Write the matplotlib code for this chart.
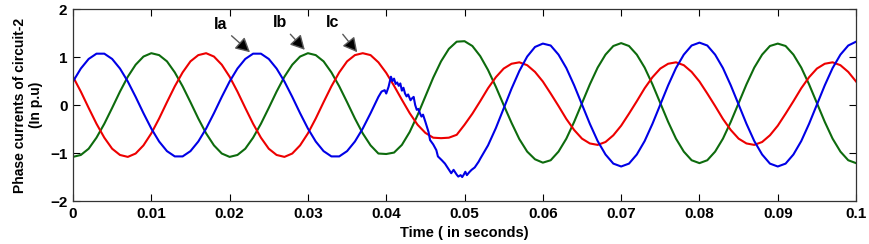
import numpy as np
import matplotlib
matplotlib.use('Agg')
import matplotlib.pyplot as plt

# time grid, 1 ms samples (s)
time = np.arange(101) * 0.001

# Ib (green), one value per ms
ib = [-1.08, -1.04, -0.91, -0.68, -0.39, -0.06, 0.28, 0.59, 0.84, 1.01,
      1.08, 1.04, 0.91, 0.68, 0.39, 0.06, -0.28, -0.59, -0.84, -1.01,
      -1.08, -1.04, -0.91, -0.68, -0.39, -0.06, 0.28, 0.59, 0.84, 1.01,
      1.08, 1.04, 0.91, 0.68, 0.39, 0.06, -0.28, -0.59, -0.84, -1.01,
      -1.02, -0.99, -0.83, -0.56, -0.21, 0.18, 0.57, 0.91, 1.17, 1.32,
      1.33, 1.23, 1.02, 0.73, 0.38, 0.00, -0.37, -0.71, -0.97, -1.13,
      -1.20, -1.15, -0.97, -0.70, -0.35, 0.04, 0.43, 0.78, 1.05, 1.23,
      1.29, 1.23, 1.05, 0.78, 0.43, 0.04, -0.35, -0.70, -0.97, -1.15,
      -1.21, -1.15, -0.97, -0.70, -0.35, 0.04, 0.43, 0.78, 1.05, 1.23,
      1.28, 1.23, 1.05, 0.78, 0.43, 0.04, -0.35, -0.70, -0.97, -1.15,
      -1.21]

# Ic (red), one value per ms
ic = [0.59, 0.28, -0.06, -0.39, -0.68, -0.91, -1.04, -1.08, -1.01, -0.84,
      -0.59, -0.28, 0.06, 0.39, 0.68, 0.91, 1.04, 1.08, 1.01, 0.84,
      0.59, 0.28, -0.06, -0.39, -0.68, -0.91, -1.04, -1.08, -1.01, -0.84,
      -0.59, -0.28, 0.06, 0.39, 0.68, 0.91, 1.04, 1.08, 1.04, 0.89,
      0.67, 0.40, 0.11, -0.17, -0.41, -0.58, -0.68, -0.69, -0.68, -0.62,
      -0.41, -0.18, 0.08, 0.35, 0.58, 0.76, 0.86, 0.89, 0.83, 0.69,
      0.49, 0.24, -0.02, -0.29, -0.52, -0.70, -0.80, -0.83, -0.77, -0.63,
      -0.43, -0.18, 0.08, 0.35, 0.58, 0.76, 0.86, 0.89, 0.83, 0.69,
      0.49, 0.24, -0.02, -0.29, -0.52, -0.70, -0.80, -0.83, -0.77, -0.63,
      -0.43, -0.18, 0.08, 0.35, 0.58, 0.76, 0.86, 0.89, 0.83, 0.69,
      0.49]

# Ia (blue): pre-fault 0..38 ms, fault region (irregular samples), post-fault 52..100 ms
ia_pre = [0.49, 0.76, 0.96, 1.07, 1.07, 0.96, 0.76, 0.49, 0.17, -0.17,
          -0.49, -0.76, -0.96, -1.07, -1.07, -0.96, -0.76, -0.49, -0.17, 0.17,
          0.49, 0.76, 0.96, 1.07, 1.07, 0.96, 0.76, 0.49, 0.17, -0.17,
          -0.49, -0.76, -0.96, -1.07, -1.07, -0.96, -0.76, -0.49, -0.17]
fault_t = [0.0390, 0.0394, 0.0398, 0.0400, 0.0403, 0.0406, 0.0408, 0.0410,
           0.0412, 0.0414, 0.0416, 0.0418, 0.0420, 0.0422, 0.0424, 0.0426,
           0.0428, 0.0431, 0.0433, 0.0435, 0.0437, 0.0439, 0.0441, 0.0443,
           0.0445, 0.0447, 0.0450, 0.0454, 0.0456, 0.0460, 0.0464, 0.0466,
           0.0471, 0.0475, 0.0479, 0.0483, 0.0486, 0.0490, 0.0492, 0.0495,
           0.0497, 0.0499, 0.0501, 0.0503, 0.0506, 0.0509, 0.0513, 0.0518]
fault_ia = [0.17, 0.28, 0.31, 0.24, 0.38, 0.59, 0.50, 0.55,
            0.44, 0.47, 0.40, 0.45, 0.30, 0.36, 0.24, 0.18,
            0.22, 0.10, 0.14, 0.17, 0.00, -0.10, -0.08, -0.17,
            -0.24, -0.20, -0.35, -0.56, -0.73, -0.82, -0.94, -1.07,
            -1.15, -1.22, -1.32, -1.42, -1.35, -1.45, -1.49, -1.46,
            -1.50, -1.45, -1.39, -1.46, -1.40, -1.35, -1.30, -1.18]
ia_post = [-1.12, -0.84, -0.48, -0.07, 0.34, 0.71, 1.01, 1.21, 1.28,
           1.24, 1.05, 0.77, 0.41, 0.01, -0.39, -0.75, -1.03, -1.22, -1.28,
           -1.22, -1.03, -0.75, -0.39, 0.01, 0.41, 0.77, 1.05, 1.24, 1.30,
           1.24, 1.05, 0.77, 0.41, 0.01, -0.39, -0.75, -1.03, -1.22, -1.28,
           -1.22, -1.03, -0.75, -0.39, 0.01, 0.41, 0.77, 1.05, 1.24, 1.32]

ia_t = np.concatenate([time[:39], fault_t, time[52:]])
ia = np.concatenate([ia_pre, fault_ia, ia_post])

x_ticks = [0, 0.01, 0.02, 0.03, 0.04, 0.05, 0.06, 0.07, 0.08, 0.09, 0.1]
x_labels = ['0', '0.01', '0.02', '0.03', '0.04', '0.05', '0.06', '0.07', '0.08', '0.09', '0.1']
y_ticks = [-2, -1, 0, 1, 2]

# label, arrow tip (t, value), text centre (t, value)
labels = [('Ia', (0.0226, 1.10), (0.0189, 1.67)),
          ('Ib', (0.0296, 1.15), (0.0264, 1.71)),
          ('Ic', (0.0363, 1.10), (0.0332, 1.71))]

plt.rcParams['font.family'] = ['Liberation Sans', 'DejaVu Sans']
plt.rcParams['font.weight'] = 'bold'

fig = plt.figure(figsize=(8.7, 2.44), dpi=100)
ax = fig.add_axes([0.0839, 0.176, 0.9001, 0.787])

ax.plot(time, ib, color=(0.05, 0.42, 0.05), lw=1.5)
ax.plot(time, ic, color=(0.93, 0.0, 0.0), lw=1.5)
ax.plot(ia_t, ia, color=(0.0, 0.0, 0.9), lw=1.5)

for name, tip, txt in labels:
    ax.annotate(name, xy=tip, xytext=txt, ha='center', va='center',
                fontsize=11.5, fontweight='bold',
                arrowprops=dict(arrowstyle='-|>,head_length=0.75,head_width=0.4',
                                fc='black', ec='0.35', lw=1.0,
                                relpos=(1.0, 0.0), shrinkA=1, shrinkB=0))

ax.set_xlim(0, 0.1)
ax.set_ylim(-2, 2)
ax.set_xticks(x_ticks)
ax.set_xticklabels(x_labels)
ax.set_yticks(y_ticks)
ax.tick_params(direction='in', length=5, width=0.8, top=True, right=True,
               labelsize=11, pad=4)
for s in ax.spines.values():
    s.set_linewidth(0.9)
    s.set_color('0.2')

ax.set_xlabel('Time ( in seconds)', fontsize=10.5, fontweight='bold', labelpad=4)
ax.set_ylabel('Phase currents of circuit-2\n(In p.u)', fontsize=10,
              fontweight='bold', labelpad=5, linespacing=1.2)

fig.savefig('out.png', dpi=100)
